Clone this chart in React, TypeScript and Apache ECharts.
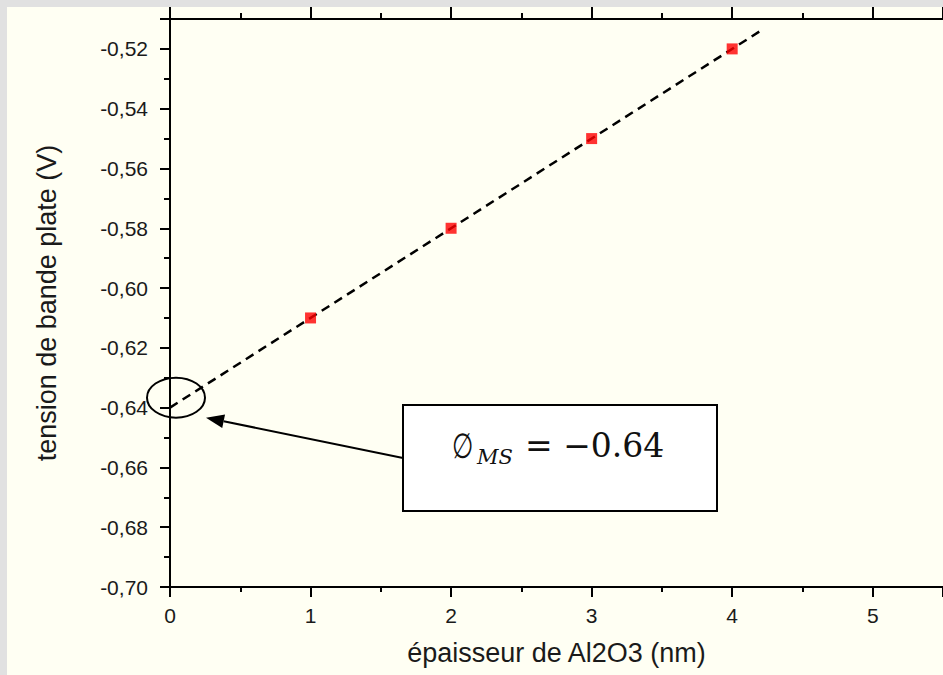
import React, { useEffect, useRef } from "react";
import * as echarts from "echarts";

// measured points
const thickness = [1, 2, 3, 4];
const flatBandVoltage = [-0.61, -0.58, -0.55, -0.52];
// linear fit (dashed line)
const fitX = [0, 4.2];
const fitY = [-0.64, -0.514];
// axes
const xMin = 0;
const xMax = 5.5;
const xStep = 1;
const yMin = -0.7;
const yMax = -0.51;
const yStep = 0.02;
const interceptX = 0;
const interceptY = -0.64;
const annotationSymbol = "∅";
const annotationSub = "MS";
const annotationValue = "= −0.64";

const FONT = "'Liberation Sans', Arial, sans-serif";

export default function App() {
  const ref = useRef<HTMLDivElement>(null);

  useEffect(() => {
    if (!ref.current) return;
    const chart = echarts.init(ref.current, null, { renderer: "svg" });

    const tickLabel = (v: number) => v.toFixed(2).replace(".", ",");

    const option: any = {
      animation: false,
      backgroundColor: "#fffff3",
      grid: { left: 163, top: 12, width: 774.4, height: 568, containLabel: false },
      xAxis: [
        {
          type: "value",
          position: "bottom",
          min: xMin,
          max: xMax,
          interval: xStep,
          name: "épaisseur de Al2O3 (nm)",
          nameLocation: "middle",
          nameGap: 52,
          nameTextStyle: { fontFamily: FONT, fontSize: 27, color: "#1a1a1a" },
          axisLine: { show: true, onZero: false, lineStyle: { color: "#000", width: 2 } },
          axisTick: { show: true, length: 10, lineStyle: { color: "#000", width: 2 } },
          minorTick: { show: true, splitNumber: 2, length: 5, lineStyle: { color: "#000", width: 2 } },
          splitLine: { show: false },
          axisLabel: {
            showMaxLabel: false,
            margin: 18,
            fontFamily: FONT,
            fontSize: 21,
            color: "#1a1a1a",
            formatter: (v: number) => String(v),
          },
        },
        {
          type: "value",
          position: "top",
          min: xMin,
          max: xMax,
          interval: xStep,
          axisLine: { show: true, onZero: false, lineStyle: { color: "#000", width: 2 } },
          axisTick: { show: true, length: 12, lineStyle: { color: "#000", width: 2 } },
          minorTick: { show: true, splitNumber: 2, length: 6, lineStyle: { color: "#000", width: 2 } },
          splitLine: { show: false },
          axisLabel: { show: false },
        },
      ],
      yAxis: {
        type: "value",
        min: yMin,
        max: yMax,
        interval: yStep,
        name: "tension de bande plate (V)",
        nameLocation: "middle",
        nameGap: 110,
        nameTextStyle: { fontFamily: FONT, fontSize: 27, color: "#1a1a1a" },
        axisLine: { show: true, onZero: false, lineStyle: { color: "#000", width: 2 } },
        axisTick: { show: true, length: 10, lineStyle: { color: "#000", width: 2 } },
        minorTick: { show: true, splitNumber: 2, length: 6, lineStyle: { color: "#000", width: 2 } },
        splitLine: { show: false },
        axisLabel: {
          showMaxLabel: false,
          margin: 22,
          fontFamily: FONT,
          fontSize: 21,
          color: "#1a1a1a",
          formatter: tickLabel,
        },
      },
      series: [
        {
          type: "line",
          data: fitX.map((x, i) => [x, fitY[i]]),
          symbol: "none",
          lineStyle: { color: "#000", width: 2.5, type: [9, 6] },
          z: 2,
        },
        {
          type: "scatter",
          data: thickness.map((x, i) => [x, flatBandVoltage[i]]),
          symbol: "rect",
          symbolSize: 11,
          itemStyle: { color: "#ff0000" },
          z: 3,
        },
      ],
    };

    chart.setOption(option);

    const p = chart.convertToPixel({ seriesIndex: 0 }, [interceptX, interceptY]) as number[];
    const tip = [p[0] + 36, p[1] + 10];
    const tail = [396, 451];
    const dx = tip[0] - tail[0];
    const dy = tip[1] - tail[1];
    const len = Math.sqrt(dx * dx + dy * dy);
    const ux = dx / len;
    const uy = dy / len;
    const headLen = 18;
    const headHalf = 7;
    const base = [tip[0] - ux * headLen, tip[1] - uy * headLen];
    const perp = [-uy, ux];

    const boxX = 396;
    const boxY = 398;
    const textY = 438.5;

    chart.setOption({
      graphic: [
        {
          type: "ellipse",
          shape: { cx: p[0] + 6, cy: p[1] - 10, rx: 29, ry: 20 },
          style: { fill: "none", stroke: "#000", lineWidth: 2 },
          z: 100,
        },
        {
          type: "line",
          shape: { x1: tail[0], y1: tail[1], x2: base[0], y2: base[1] },
          style: { stroke: "#000", lineWidth: 2 },
          z: 100,
        },
        {
          type: "polygon",
          shape: {
            points: [
              tip,
              [base[0] + perp[0] * headHalf, base[1] + perp[1] * headHalf],
              [base[0] - perp[0] * headHalf, base[1] - perp[1] * headHalf],
            ],
          },
          style: { fill: "#000" },
          z: 100,
        },
        {
          type: "rect",
          shape: { x: boxX, y: boxY, width: 314, height: 106 },
          style: { fill: "#ffffff", stroke: "#000", lineWidth: 2 },
          z: 100,
        },
        {
          type: "text",
          x: 445,
          y: textY,
          scaleX: 0.7,
          style: {
            text: annotationSymbol,
            font: "35px 'DejaVu Serif', serif",
            fill: "#111",
            verticalAlign: "middle",
            align: "left",
          },
          z: 101,
        },
        {
          type: "text",
          x: 470,
          y: 450,
          style: {
            text: annotationSub,
            font: "italic 21px 'DejaVu Serif', serif",
            fill: "#111",
            verticalAlign: "middle",
            align: "left",
          },
          z: 101,
        },
        {
          type: "text",
          x: 518,
          y: textY,
          style: {
            text: annotationValue,
            font: "33px 'DejaVu Serif', serif",
            fill: "#111",
            verticalAlign: "middle",
            align: "left",
          },
          z: 101,
        },
      ],
    });

    return () => chart.dispose();
  }, []);

  return (
    <div
      style={{
        position: "fixed",
        left: 0,
        top: 0,
        width: 943,
        height: 675,
        background: "#e1e1e1",
        overflow: "hidden",
      }}
    >
      <div
        ref={ref}
        style={{ position: "absolute", left: 7, top: 7, width: 936, height: 668 }}
      />
    </div>
  );
}
